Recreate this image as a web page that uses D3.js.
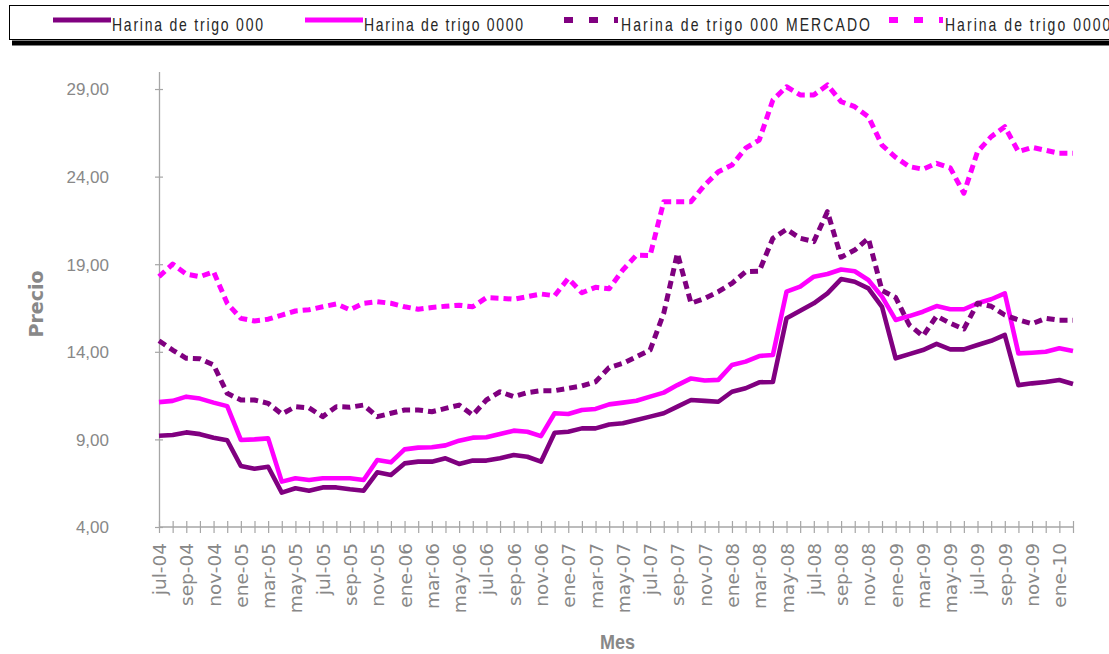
<!DOCTYPE html>
<html><head><meta charset="utf-8">
<script src="https://cdn.jsdelivr.net/npm/d3@7"></script>
<style>body{margin:0;background:#fff}svg{display:block}</style>
</head><body><svg id="c" width="1109" height="654"></svg>
<script>
const months = ["jul-04","ago-04","sep-04","oct-04","nov-04","dic-04",
"ene-05","feb-05","mar-05","abr-05","may-05","jun-05","jul-05","ago-05","sep-05","oct-05","nov-05","dic-05",
"ene-06","feb-06","mar-06","abr-06","may-06","jun-06","jul-06","ago-06","sep-06","oct-06","nov-06","dic-06",
"ene-07","feb-07","mar-07","abr-07","may-07","jun-07","jul-07","ago-07","sep-07","oct-07","nov-07","dic-07",
"ene-08","feb-08","mar-08","abr-08","may-08","jun-08","jul-08","ago-08","sep-08","oct-08","nov-08","dic-08",
"ene-09","feb-09","mar-09","abr-09","may-09","jun-09","jul-09","ago-09","sep-09","oct-09","nov-09","dic-09",
"ene-10","feb-10"];

const harina000 = [9.21,9.25,9.40,9.30,9.10,8.95,7.48,7.33,7.44,5.96,6.21,6.07,6.26,6.26,6.15,6.07,7.12,6.97,
7.63,7.73,7.73,7.92,7.60,7.79,7.79,7.92,8.11,8.01,7.73,9.38,9.44,9.63,9.63,9.85,9.92,10.11,10.30,10.49,10.87,11.25,11.20,11.15,
11.72,11.92,12.26,12.28,15.91,16.35,16.77,17.34,18.15,18.00,17.62,16.57,13.63,13.87,14.10,14.45,14.14,14.14,14.39,14.63,14.96,12.10,12.20,12.28,12.39,12.16];

const harina0000 = [11.13,11.20,11.44,11.33,11.10,10.90,8.97,9.00,9.06,6.59,6.78,6.68,6.78,6.78,6.78,6.68,7.82,7.69,
8.43,8.53,8.55,8.66,8.93,9.10,9.12,9.31,9.50,9.44,9.19,10.49,10.45,10.68,10.74,11.00,11.10,11.21,11.44,11.67,12.10,12.48,12.36,12.40,
13.25,13.44,13.76,13.82,17.43,17.72,18.29,18.44,18.70,18.60,18.10,17.15,15.82,16.04,16.29,16.61,16.43,16.43,16.77,17.00,17.34,13.91,13.95,14.00,14.20,14.04];

const harina000Mercado = [14.63,14.10,13.63,13.60,13.25,11.63,11.25,11.25,11.06,10.45,10.87,10.80,10.30,10.87,10.84,10.96,10.30,10.49,
10.68,10.68,10.58,10.77,10.96,10.39,11.25,11.72,11.44,11.67,11.78,11.78,11.92,12.05,12.29,13.10,13.34,13.72,14.10,16.20,19.62,16.77,17.05,17.43,
17.91,18.57,18.60,20.48,20.99,20.48,20.29,22.00,19.40,19.81,20.48,17.50,17.10,15.53,14.90,16.04,15.63,15.30,16.77,16.60,16.10,15.82,15.60,15.91,15.80,15.80];

const harina0000Mercado = [18.29,19.01,18.44,18.29,18.57,16.77,15.91,15.76,15.86,16.10,16.33,16.40,16.57,16.73,16.40,16.77,16.86,16.77,
16.57,16.43,16.53,16.60,16.66,16.57,17.09,17.06,17.00,17.15,17.30,17.20,18.19,17.37,17.68,17.60,18.67,19.52,19.50,22.57,22.57,22.57,23.52,24.28,
24.66,25.62,26.09,28.37,29.13,28.66,28.66,29.23,28.28,27.99,27.42,25.80,25.10,24.57,24.42,24.76,24.50,23.05,25.42,26.28,26.85,25.42,25.67,25.50,25.33,25.33];

const yTicks = [4, 9, 14, 19, 24, 29];
const seriesNames = ["Harina de trigo 000","Harina de trigo 0000","Harina de trigo 000 MERCADO","Harina de trigo 0000 MERCADO"];

const svg = d3.select("#c");
const x = d3.scalePoint().domain(months).range([159, 1073]);
const y = d3.scaleLinear().domain([4, 30]).range([527, 71.5]);
const grey = "#888888";

// Y axis
const yAx = svg.append("g").attr("transform","translate(159,0)")
  .call(d3.axisLeft(y).tickValues(yTicks).tickSize(0).tickPadding(50)
    .tickFormat(d => d3.format(".2f")(d).replace(".", ",")));
yAx.select(".domain").attr("stroke", "#a6a6a6").attr("stroke-width", 1.3);
yAx.selectAll(".tick text").attr("font-family","'Liberation Sans', Arial, sans-serif")
  .attr("font-size", 17).attr("fill", grey).attr("dy", "0.35em");
yAx.selectAll(".tick").append("line").attr("x1",-4).attr("x2",4).attr("stroke","#a6a6a6").attr("stroke-width",1.2);

// X axis
const xAx = svg.append("g").attr("transform","translate(0,527)")
  .call(d3.axisBottom(x).tickSize(0).tickFormat((d,i) => i % 2 === 0 ? d : ""));
xAx.select(".domain").attr("stroke", "#a6a6a6").attr("stroke-width", 1.3).attr("d","M159,0H1074");
xAx.selectAll(".tick").append("line").attr("y1",-6).attr("y2",6).attr("stroke","#a6a6a6").attr("stroke-width",1.2);
xAx.selectAll(".tick text")
  .attr("font-family","'DejaVu Sans', Verdana, sans-serif").attr("font-size", 18.5).attr("fill", grey)
  .attr("text-anchor","end").attr("transform","translate(0,16) rotate(-90)")
  .attr("x", 0).attr("y", 0).attr("dy","0.35em");

// Axis titles
svg.append("text").attr("transform","translate(43,304) rotate(-90)")
  .attr("text-anchor","middle").attr("font-family","'DejaVu Sans', Verdana, sans-serif")
  .attr("font-weight","bold").attr("font-size",19).attr("fill", grey).text("Precio");
svg.append("text").attr("x",600).attr("y",649)
  .attr("font-family","'Liberation Sans Narrow', 'Arial Narrow', 'Liberation Sans', sans-serif")
  .attr("font-weight","bold").attr("font-size",21).attr("fill", grey)
  .attr("textLength",35).attr("lengthAdjust","spacingAndGlyphs").text("Mes");

// Lines
const line = d3.line().x((d,i) => x(months[i])).y(d => y(d)).curve(d3.curveLinear);
const series = [
  {name: seriesNames[0], values: harina000, color: "#800080", dash: null, w: 4.6},
  {name: seriesNames[1], values: harina0000, color: "#ff00ff", dash: null, w: 4.6},
  {name: seriesNames[2], values: harina000Mercado, color: "#800080", dash: "8,5", w: 5},
  {name: seriesNames[3], values: harina0000Mercado, color: "#ff00ff", dash: "8,5", w: 5}
];
svg.append("g").selectAll("path").data(series).join("path")
  .attr("d", d => line(d.values)).attr("fill","none")
  .attr("stroke", d => d.color).attr("stroke-width", d => d.w)
  .attr("stroke-dasharray", d => d.dash).attr("stroke-linejoin","round");

// Legend
svg.append("rect").attr("x",12).attr("y",40.5).attr("width",1200).attr("height",5).attr("fill","#000");
svg.append("rect").attr("x",9.5).attr("y",5.5).attr("width",1200).attr("height",34)
  .attr("fill","#fff").attr("stroke","#000").attr("stroke-width",1);
const legItems = [
  {lx: 53, tx: 112, tl: 151},
  {lx: 305, tx: 364, tl: 159},
  {lx: 564, tx: 621, tl: 249},
  {lx: 889, tx: 945, tl: 257}
];
const sx = 0.8;
const lg = svg.append("g").selectAll("g").data(series).join("g");
lg.append("line").attr("x1",(d,i)=>legItems[i].lx).attr("x2",(d,i)=>legItems[i].lx+ (d.dash?54:58))
  .attr("y1",20).attr("y2",20).attr("stroke",d=>d.color)
  .attr("stroke-width", d => d.dash ? 6 : 5).attr("stroke-dasharray", d => d.dash ? "9,16" : null);
lg.append("text").attr("transform",(d,i)=>`translate(${legItems[i].tx},31) scale(${sx},1)`)
  .attr("font-family","'Liberation Sans', Arial, sans-serif")
  .attr("font-size",17.5).attr("fill","#262626")
  .attr("textLength",(d,i)=>legItems[i].tl/sx).attr("lengthAdjust","spacing").text(d=>d.name);
</script></body></html>
